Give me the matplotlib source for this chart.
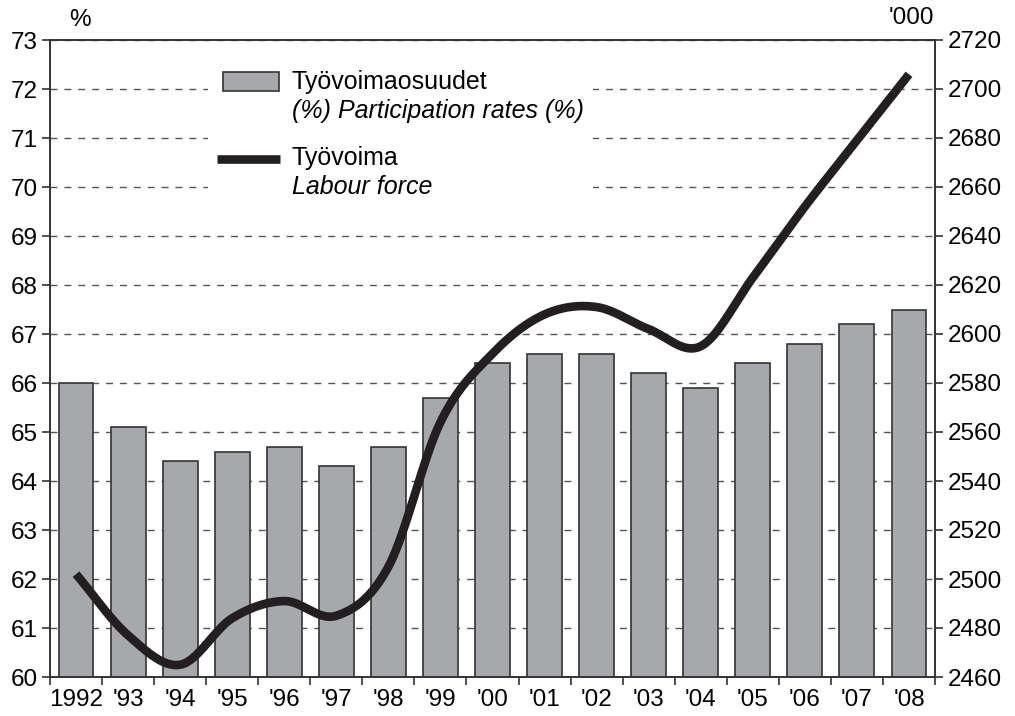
import numpy as np
import matplotlib.pyplot as plt
from matplotlib.patches import Rectangle
from matplotlib.lines import Line2D

plt.rcParams['font.family'] = ['Liberation Sans', 'DejaVu Sans']

# Data
years = ['1992', "'93", "'94", "'95", "'96", "'97", "'98", "'99", "'00",
         "'01", "'02", "'03", "'04", "'05", "'06", "'07", "'08"]
participation = [66.0, 65.1, 64.4, 64.6, 64.7, 64.3, 64.7, 65.7, 66.4,
                 66.6, 66.6, 66.2, 65.9, 66.4, 66.8, 67.2, 67.5]
labour_force = [2502, 2477, 2465, 2484, 2491, 2485, 2505, 2564, 2592,
                2608, 2611, 2602, 2595, 2623, 2652, 2679, 2706]

BAR = '#a7a8ab'
INK = '#231f20'
FS = 17.5
LFS = 18


def catmull_rom(x, y, n=20):
    # smooth curve through the points (drawing only)
    x = np.asarray(x, float)
    y = np.asarray(y, float)
    px = np.concatenate([[2 * x[0] - x[1]], x, [2 * x[-1] - x[-2]]])
    py = np.concatenate([[2 * y[0] - y[1]], y, [2 * y[-1] - y[-2]]])
    xs, ys = [], []
    t = np.linspace(0, 1, n, endpoint=False)
    for i in range(1, len(px) - 2):
        for arr, out in ((px, xs), (py, ys)):
            a, b, c, d = arr[i - 1], arr[i], arr[i + 1], arr[i + 2]
            out.extend(0.5 * (2 * b + (-a + c) * t + (2 * a - 5 * b + 4 * c - d) * t ** 2
                              + (-a + 3 * b - 3 * c + d) * t ** 3))
    xs.append(x[-1])
    ys.append(y[-1])
    return np.array(xs), np.array(ys)


fig = plt.figure(figsize=(10.15, 7.16), dpi=100)
ax = fig.add_axes([50 / 1015, 1 - 677 / 716, 885 / 1015, 637 / 716])

x = np.arange(len(years))
ax.bar(x, participation, width=0.67, color=BAR, edgecolor='#333333',
       linewidth=1.2, zorder=2)
ax.set_ylim(60, 73)
ax.set_yticks(range(60, 74))
ax.set_xlim(-0.5, len(years) - 0.5)
ax.set_xticks(x)
ax.set_xticklabels(years, fontsize=FS)
ax.set_xticks(np.arange(-0.5, len(years)), minor=True)
ax.tick_params(axis='x', which='major', length=0, pad=9)
ax.tick_params(axis='x', which='minor', length=6, width=1.2, color='#333333')
ax.tick_params(axis='y', labelsize=FS, length=6, width=1.2, color='#333333', pad=3)
ax.grid(axis='y', color='#555555', linestyle=(0, (5, 5)), linewidth=1.0, zorder=0)
ax.set_axisbelow(True)
for s in ax.spines.values():
    s.set_color('#333333')
    s.set_linewidth(1.2)

ax2 = ax.twinx()
ax2.set_ylim(2460, 2720)
ax2.set_yticks(range(2460, 2721, 20))
ax2.tick_params(axis='y', labelsize=FS, length=6, width=1.2, color='#333333', pad=3)
for s in ax2.spines.values():
    s.set_color('#333333')
    s.set_linewidth(1.2)
sx, sy = catmull_rom(x, labour_force)
ax2.plot(sx, sy, color=INK, linewidth=6.2, solid_capstyle='butt', zorder=3)

fig.text(80 / 1015, 1 - 20 / 716, '%', fontsize=FS, ha='center', va='center')
fig.text(911 / 1015, 1 - 18 / 716, "'000", fontsize=FS, ha='center', va='center')

# Legend drawn by hand, on a white box that hides the grid
fig.patches.append(Rectangle((208 / 1015, 1 - 205 / 716), 385 / 1015, 150 / 716,
                             transform=fig.transFigure, facecolor='white',
                             edgecolor='none', zorder=4))
fig.patches.append(Rectangle((223 / 1015, 1 - 91 / 716), 56 / 1015, 19 / 716,
                             transform=fig.transFigure, facecolor=BAR,
                             edgecolor='#333333', linewidth=1.2, zorder=5))
fig.lines.append(Line2D([217 / 1015, 280 / 1015], [1 - 159 / 716] * 2,
                        transform=fig.transFigure, color=INK, linewidth=6.2,
                        solid_capstyle='butt', zorder=5))
fig.text(292 / 1015, 1 - 82 / 716, 'Työvoimaosuudet', fontsize=LFS, va='center', zorder=6)
fig.text(292 / 1015, 1 - 111 / 716, '(%) Participation rates (%)', fontsize=LFS,
         va='center', style='italic', zorder=6)
fig.text(292 / 1015, 1 - 158 / 716, 'Työvoima', fontsize=LFS, va='center', zorder=6)
fig.text(292 / 1015, 1 - 187 / 716, 'Labour force', fontsize=LFS, va='center',
         style='italic', zorder=6)

fig.savefig('out.png', dpi=100, facecolor='white')
